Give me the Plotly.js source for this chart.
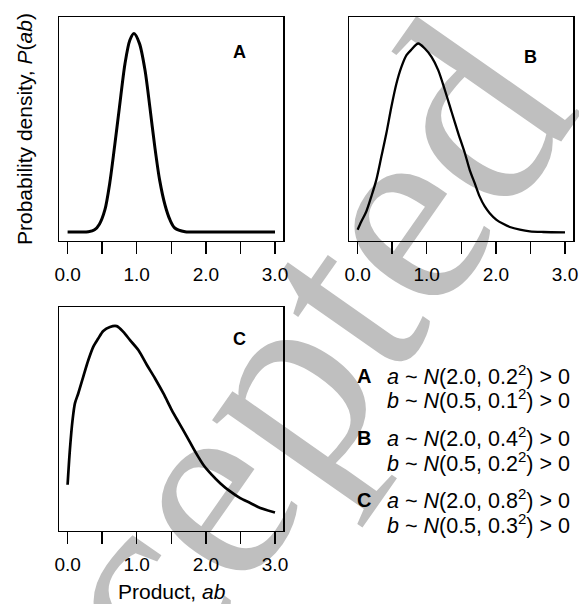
<!DOCTYPE html>
<html>
<head>
<meta charset="utf-8">
<script src="https://cdn.plot.ly/plotly-3.0.1.min.js"></script>
<style>
  html, body { margin:0; padding:0; background:#ffffff; overflow:hidden; }
  #wrap { position:relative; width:579px; height:604px; overflow:hidden; background:#ffffff; }
  #wm { position:absolute; left:210px; top:482px; transform:translate(-50%,-50%) rotate(-55deg);
        font-family:'Liberation Serif','Times New Roman',serif; font-size:275px; line-height:1;
        color:#bfbfbf; white-space:nowrap; z-index:0; }
  #chart { position:absolute; left:0; top:0; width:579px; height:604px; z-index:1; }
</style>
</head>
<body>
<div id="wrap">
  <div id="wm">Accepted</div>
  <div id="chart"></div>
</div>
<script>
// ---- data ----
const xA = [0.00, 0.20, 0.30, 0.39, 0.46, 0.54, 0.61, 0.68, 0.75, 0.83, 0.90, 0.96, 1.04, 1.12, 1.19, 1.26, 1.33, 1.41, 1.48, 1.55, 1.70, 2.00, 2.50, 3.00];
const yA = [0.00, 0.00, 0.003, 0.02, 0.07, 0.20, 0.44, 0.77, 1.12, 1.51, 1.72, 1.78, 1.69, 1.45, 1.12, 0.77, 0.47, 0.24, 0.11, 0.036, 0.003, 0.0, 0.0, 0.0];

const xB = [0.00, 0.054, 0.126, 0.198, 0.271, 0.344, 0.416, 0.489, 0.562, 0.634, 0.707, 0.779, 0.877, 0.972, 1.069, 1.166, 1.262, 1.359, 1.456, 1.552, 1.621, 1.694, 1.766, 1.839, 1.911, 2.009, 2.105, 2.202, 2.347, 2.492, 2.686, 3.00];
const yB = [0.013, 0.052, 0.10, 0.171, 0.251, 0.362, 0.473, 0.60, 0.711, 0.79, 0.846, 0.873, 0.902, 0.878, 0.838, 0.775, 0.68, 0.576, 0.473, 0.378, 0.299, 0.235, 0.171, 0.124, 0.092, 0.060, 0.041, 0.026, 0.013, 0.005, 0.002, 0.0];

const xC = [0.00, 0.033, 0.072, 0.106, 0.154, 0.226, 0.299, 0.371, 0.443, 0.516, 0.613, 0.710, 0.806, 0.903, 1.023, 1.145, 1.265, 1.386, 1.507, 1.603, 1.725, 1.845, 1.965, 2.087, 2.207, 2.352, 2.497, 2.642, 2.787, 3.00];
const yC = [0.118, 0.227, 0.321, 0.373, 0.404, 0.456, 0.508, 0.55, 0.576, 0.60, 0.6125, 0.615, 0.597, 0.571, 0.54, 0.494, 0.451, 0.404, 0.352, 0.315, 0.269, 0.222, 0.18, 0.149, 0.123, 0.097, 0.076, 0.061, 0.045, 0.031];

const majorTickStep = 1;
const minorTickStep = 0.5;

const panelLabels = ['A', 'B', 'C'];
const legendLines = [
  ['<i>a</i> ~ <i>N</i>(2.0, 0.2<sup>2</sup>) &gt; 0', '<i>b</i> ~ <i>N</i>(0.5, 0.1<sup>2</sup>) &gt; 0'],
  ['<i>a</i> ~ <i>N</i>(2.0, 0.4<sup>2</sup>) &gt; 0', '<i>b</i> ~ <i>N</i>(0.5, 0.2<sup>2</sup>) &gt; 0'],
  ['<i>a</i> ~ <i>N</i>(2.0, 0.8<sup>2</sup>) &gt; 0', '<i>b</i> ~ <i>N</i>(0.5, 0.3<sup>2</sup>) &gt; 0']
];
const yTitle = 'Probability density, <i>P</i>(<i>ab</i>)';
const xTitle = 'Product, <i>ab</i>';

// ---- layout helpers ----
const W = 579, H = 604;
const px = x => x / W;
const py = y => 1 - y / H;
const FONT = 'Liberation Sans, Arial, Helvetica, sans-serif';

const lineStyle = w => ({color: '#000000', width: w, shape: 'spline', smoothing: 0.8});
const traces = [
  {x: xA, y: yA, type: 'scatter', mode: 'lines', line: lineStyle(3), xaxis: 'x', yaxis: 'y', hoverinfo: 'skip'},
  {x: xB, y: yB, type: 'scatter', mode: 'lines', line: lineStyle(2.3), xaxis: 'x2', yaxis: 'y2', hoverinfo: 'skip'},
  {x: xC, y: yC, type: 'scatter', mode: 'lines', line: lineStyle(2.7), xaxis: 'x3', yaxis: 'y3', hoverinfo: 'skip'}
];

function xax(dom, anchor) {
  return {
    domain: dom, anchor: anchor, range: [-0.12, 3.12], fixedrange: true,
    showline: true, mirror: true, linecolor: '#000', linewidth: 1.5,
    ticks: 'outside', ticklen: 12, tickwidth: 1.5, tickcolor: '#000',
    tickmode: 'linear', tick0: 0, dtick: majorTickStep, tickformat: '.1f',
    ticklabelstandoff: 4,
    minor: {tick0: 0, dtick: minorTickStep, ticks: 'outside', ticklen: 12, tickwidth: 1.5, tickcolor: '#000', showgrid: false},
    tickfont: {family: FONT, size: 19, color: '#000'},
    showgrid: false, zeroline: false
  };
}
function yax(dom, anchor, rng) {
  return {
    domain: dom, anchor: anchor, range: rng, fixedrange: true,
    showline: true, mirror: true, linecolor: '#000', linewidth: 1.5,
    ticks: '', showticklabels: false, showgrid: false, zeroline: false
  };
}

const xDomLeft = [px(59.3), px(283.3)];
const xDomRight = [px(349.3), px(573.3)];
const yDomTop = [py(240.7), py(17.3)];
const yDomBot = [py(530.7), py(307.3)];

const annotations = [];
// panel letters
const panelPos = [[240, 52], [530, 57], [240, 339]];
panelLabels.forEach((t, i) => annotations.push({
  text: '<b>' + t + '</b>', xref: 'paper', yref: 'paper', x: px(panelPos[i][0]), y: py(panelPos[i][1]),
  xanchor: 'center', yanchor: 'middle', showarrow: false, font: {family: FONT, size: 18, color: '#000'}
}));
// axis titles
annotations.push({text: yTitle, xref: 'paper', yref: 'paper', x: px(24), y: py(129), textangle: -90,
  xanchor: 'center', yanchor: 'middle', showarrow: false, font: {family: FONT, size: 21, color: '#000'}});
annotations.push({text: xTitle, xref: 'paper', yref: 'paper', x: px(172), y: py(591),
  xanchor: 'center', yanchor: 'middle', showarrow: false, font: {family: FONT, size: 21, color: '#000'}});
// legend text block
const legLetterY = [376, 438, 500];
const legLineY = [[375, 399], [437.5, 462], [499, 523.5]];
panelLabels.forEach((t, i) => {
  annotations.push({text: '<b>' + t + '</b>', xref: 'paper', yref: 'paper', x: px(364), y: py(legLetterY[i]),
    xanchor: 'center', yanchor: 'middle', showarrow: false, font: {family: FONT, size: 20, color: '#000'}});
  legendLines[i].forEach((s, j) => annotations.push({text: s, xref: 'paper', yref: 'paper', x: px(385), y: py(legLineY[i][j]),
    xanchor: 'left', yanchor: 'middle', showarrow: false, font: {family: FONT, size: 21.5, color: '#000'}}));
});

const layout = {
  width: W, height: H, margin: {l: 0, r: 0, t: 0, b: 0}, showlegend: false,
  paper_bgcolor: 'rgba(0,0,0,0)', plot_bgcolor: 'rgba(0,0,0,0)',
  font: {family: FONT, color: '#000'},
  xaxis: xax(xDomLeft, 'y'), yaxis: yax(yDomTop, 'x', [-0.078, 1.926]),
  xaxis2: xax(xDomRight, 'y2'), yaxis2: yax(yDomTop, 'x2', [-0.0395, 1.027]),
  xaxis3: xax(xDomLeft, 'y3'), yaxis3: yax(yDomBot, 'x3', [-0.026, 0.674]),
  annotations: annotations
};

Plotly.newPlot('chart', traces, layout, {staticPlot: true, displayModeBar: false});
</script>
</body>
</html>
